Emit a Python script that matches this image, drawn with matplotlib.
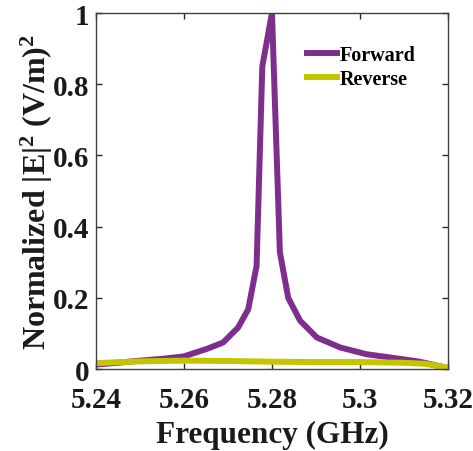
import matplotlib
matplotlib.use("Agg")
import matplotlib.pyplot as plt

plt.rcParams['font.family'] = ['Liberation Serif', 'DejaVu Serif']
plt.rcParams['font.weight'] = 'bold'
plt.rcParams['mathtext.fontset'] = 'custom'
plt.rcParams['mathtext.rm'] = 'Liberation Serif:bold'
plt.rcParams['mathtext.bf'] = 'Liberation Serif:bold'
plt.rcParams['mathtext.it'] = 'Liberation Serif:bold'

# values
fwd_freq = [5.24, 5.245, 5.25, 5.255, 5.26, 5.2652, 5.2689, 5.2723, 5.2746,
            5.2765, 5.2778, 5.28, 5.2818, 5.2837, 5.2864, 5.2902, 5.2955,
            5.3015, 5.3091, 5.3136, 5.32]
fwd_vals = [0.013, 0.018, 0.024, 0.029, 0.036, 0.057, 0.075, 0.117, 0.168,
            0.29, 0.85, 1.0, 0.328, 0.20, 0.136, 0.089, 0.061,
            0.042, 0.029, 0.021, 0.003]

rev_freq = [5.24, 5.25, 5.26, 5.27, 5.28, 5.29, 5.30, 5.31, 5.315, 5.32]
rev_vals = [0.017, 0.022, 0.024, 0.023, 0.021, 0.020, 0.020, 0.018, 0.015, 0.004]

xticks = [5.24, 5.26, 5.28, 5.30, 5.32]
xtick_labels = ['5.24', '5.26', '5.28', '5.3', '5.32']
yticks = [0, 0.2, 0.4, 0.6, 0.8, 1.0]
ytick_labels = ['0', '0.2', '0.4', '0.6', '0.8', '1']

fig = plt.figure(figsize=(4.73, 4.52), dpi=100)
ax = fig.add_axes([0.203, 0.181, 0.744, 0.788])

ax.plot(fwd_freq, fwd_vals, color='#7E2F8E', lw=4.3, label='Forward')
ax.plot(rev_freq, rev_vals, color='#C4C400', lw=4.3, label='Reverse')

ax.set_xlim(5.24, 5.32)
ax.set_ylim(0, 1)
ax.set_xticks(xticks)
ax.set_xticklabels(xtick_labels)
ax.set_yticks(yticks)
ax.set_yticklabels(ytick_labels)
ax.tick_params(direction='in', length=4, width=1, top=True, right=True,
               labelsize=21, colors='#262626')
ax.tick_params(axis='x', pad=12)
ax.tick_params(axis='y', pad=5)
for lab in ax.get_xticklabels() + ax.get_yticklabels():
    lab.set_color('#1a1a1a')
for sp in ax.spines.values():
    sp.set_color('#404040')
    sp.set_linewidth(1.0)

ax.set_xlabel('Frequency (GHz)', fontsize=22.5, fontweight='bold',
              labelpad=5, color='#1a1a1a')
ax.set_ylabel('Normalized |E|$^2$ (V/m)$^2$', fontsize=23, fontweight='bold',
              labelpad=-2, color='#1a1a1a')

leg = ax.legend(loc='upper right', bbox_to_anchor=(0.96, 0.96), frameon=False,
                fontsize=14.5, handlelength=1.5, handletextpad=0.15,
                labelspacing=0.2)

fig.savefig('out.png', dpi=100)
